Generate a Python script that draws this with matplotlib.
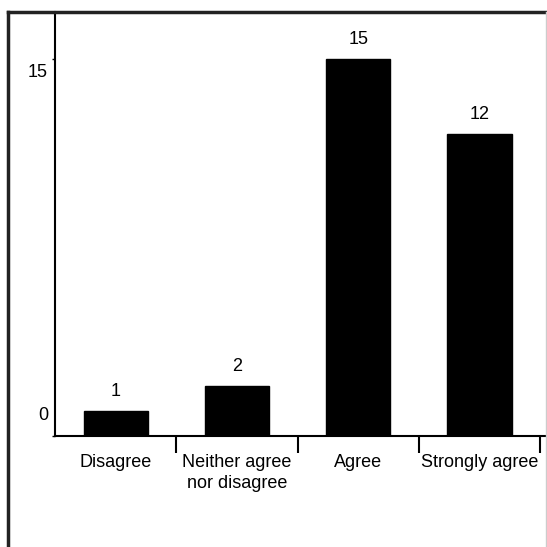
import matplotlib
matplotlib.use('Agg')
import matplotlib.pyplot as plt
from matplotlib.lines import Line2D
from matplotlib.transforms import ScaledTranslation

plt.rcParams['font.family'] = ['Liberation Sans', 'DejaVu Sans']

categories = ['Disagree', 'Neither agree\nnor disagree', 'Agree', 'Strongly agree']
counts = [1, 2, 15, 12]
ytick_vals = [0, 15]

W = H = 547
fig = plt.figure(figsize=(W / 100, H / 100), dpi=100)
ax = fig.add_axes([55 / W, (H - 436) / H, (545 - 55) / W, (436 - 12) / H])

x = list(range(len(categories)))
bars = ax.bar(x, counts, width=0.53, color='black', edgecolor='black')

for xi, v in zip(x, counts):
    ax.annotate(str(v), (xi, v), xytext=(0, 14), textcoords='offset points',
                ha='center', va='center', fontsize=13)

ax.set_xlim(-0.5, 3.54)
ax.set_ylim(0, 16.87)

# category labels sit between the boundary ticks
ax.set_xticks([0.5, 1.5, 2.5, 3.5])
ax.set_xticklabels([])
ax.set_xticks(x, minor=True)
ax.set_xticklabels(categories, minor=True, fontsize=13, linespacing=1.3)
ax.tick_params(axis='x', which='major', direction='out', length=12, width=1.5)
ax.tick_params(axis='x', which='minor', length=0, pad=13)

ax.set_yticks(ytick_vals)
ax.set_yticklabels([str(v) for v in ytick_vals], fontsize=13)
ax.tick_params(axis='y', direction='out', length=2, width=1, pad=3)
shifts = [23, -12]
for lab, s in zip(ax.get_yticklabels(), shifts):
    lab.set_transform(lab.get_transform() + ScaledTranslation(0, s / 100, fig.dpi_scale_trans))

for side in ['top', 'right']:
    ax.spines[side].set_visible(False)
ax.spines['left'].set_linewidth(1.5)
ax.spines['bottom'].set_linewidth(1.5)

# outer frame of the picture
top = (H - 12) / H
fig.add_artist(Line2D([8 / W, 546 / W], [top, top], color='#222222', lw=2.5))
fig.add_artist(Line2D([8 / W, 8 / W], [0, top], color='#222222', lw=2.5))
fig.add_artist(Line2D([546 / W, 546 / W], [0, top], color='#cccccc', lw=1))

fig.savefig('out.png', dpi=100)
